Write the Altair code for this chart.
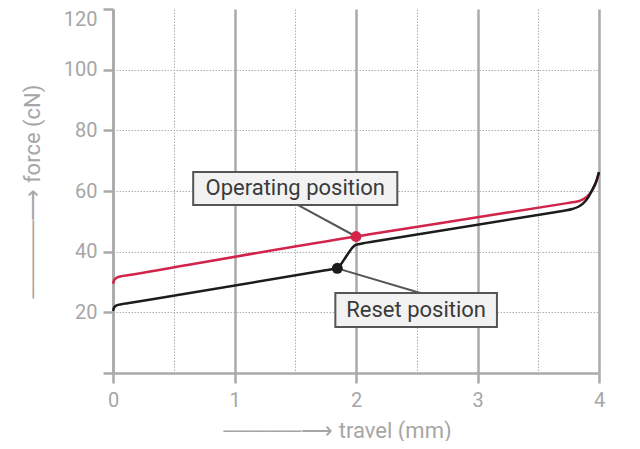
import altair as alt
import pandas as pd

# ---- data ----
op_x = [0.0, 0.01, 0.03, 0.07, 0.12, 2.0, 2.1, 3.0, 3.7, 3.78, 3.84, 3.88, 3.92, 3.95, 3.98, 4.0]
op_y = [29.5, 30.6, 31.4, 31.88, 32.22, 45.0, 45.63, 51.33, 55.76, 56.27, 56.75, 57.5, 58.9, 60.6, 63.3, 66.2]
rs_x = [0.0, 0.01, 0.03, 0.07, 0.12, 1.75, 1.80, 1.846, 1.87, 1.92, 1.96, 1.99, 2.03, 2.06, 2.12,
        3.65, 3.72, 3.78, 3.83, 3.87, 3.91, 3.95, 3.98, 4.0]
rs_y = [20.5, 21.6, 22.3, 22.67, 23.0, 33.85, 34.19, 34.5, 35.5, 38.5, 40.8, 42.1, 42.55, 42.8, 43.19,
        53.09, 53.54, 54.05, 54.8, 55.9, 57.8, 60.8, 63.5, 66.2]

point_names = ["Operating position", "Reset position"]
point_x = [2.0, 1.846]
point_y = [45.0, 34.5]
point_series = ["operating", "reset"]

# annotation boxes (data units) and leader lines
box_x1 = [0.66, 1.83]
box_x2 = [2.34, 3.16]
box_y1 = [55.4, 15.2]
box_y2 = [66.3, 26.4]
lead_x = [1.52, 2.53]
lead_y = [55.4, 26.4]

RED = "#d2234b"
BLACK = "#1c1c1c"
GRAY = "#a6a6a6"

rows = []
for x, y in zip(op_x, op_y):
    rows.append({"series": "operating", "x": x, "y": y})
for x, y in zip(rs_x, rs_y):
    rows.append({"series": "reset", "x": x, "y": y})
lines_df = pd.DataFrame(rows)

ann_df = pd.DataFrame({
    "name": point_names, "series": point_series,
    "px": point_x, "py": point_y,
    "bx1": box_x1, "bx2": box_x2, "by1": box_y1, "by2": box_y2,
    "bcx": [(a + b) / 2 for a, b in zip(box_x1, box_x2)],
    "bcy": [(a + b) / 2 for a, b in zip(box_y1, box_y2)],
    "lx": lead_x, "ly": lead_y,
})

xscale = alt.Scale(domain=[0, 4], nice=False, zero=False)
yscale = alt.Scale(domain=[0, 120], nice=False)
cscale = alt.Scale(domain=["operating", "reset"], range=[RED, BLACK])

is_int = "datum.value % 1 === 0"

x_axis = alt.Axis(
    values=[0, 0.5, 1, 1.5, 2, 2.5, 3, 3.5, 4],
    labelExpr="datum.value % 1 === 0 ? format(datum.value, 'd') : ''",
    labelFlush=False,
    title="─────⟶ travel (mm)",
    titleX=224, titleY=57, titleBaseline="middle", titleAlign="center",
    grid=True,
    gridDash={"condition": {"test": is_int, "value": []}, "value": [1.5, 1.5]},
    gridWidth={"condition": {"test": is_int, "value": 2.5}, "value": 1},
    gridColor={"condition": {"test": is_int, "value": "#aaaaaa"}, "value": "#b0b0b0"},
    tickSize={"condition": {"test": is_int, "value": 10}, "value": 0},
    labelPadding=7,
)
y_axis = alt.Axis(
    values=[0, 20, 40, 60, 80, 100, 120],
    labelExpr="datum.value === 0 ? '' : datum.label",
    labelFlush=False,
    labelOffset={"condition": {"test": "datum.value === 120", "value": 10}, "value": 0},
    title="─────⟶ force (cN)",
    titleX=-81, titleY=182, titleAngle=-90, titleBaseline="middle", titleAlign="center",
    grid=True,
    gridDash=[1.5, 1.5],
    gridWidth=1,
    gridColor="#b0b0b0",
    gridOpacity={"condition": {"test": "datum.value === 120", "value": 0}, "value": 1},
    tickSize=10,
    labelPadding=6,
)

base = alt.Chart(lines_df)
lines = base.mark_line(interpolate="monotone", strokeWidth=2.5).encode(
    x=alt.X("x:Q", scale=xscale, axis=x_axis),
    y=alt.Y("y:Q", scale=yscale, axis=y_axis),
    color=alt.Color("series:N", scale=cscale, legend=None),
    order="x:Q",
)

ann = alt.Chart(ann_df)
leaders = ann.mark_rule(color="#555555", strokeWidth=2).encode(
    x="px:Q", y="py:Q", x2="lx:Q", y2="ly:Q"
)
boxes = ann.mark_rect(fill="#f2f2f2", stroke="#555555", strokeWidth=2).encode(
    x="bx1:Q", x2="bx2:Q", y="by1:Q", y2="by2:Q"
)
labels = ann.mark_text(font="Roboto", fontSize=22, color="#3a3a3a").encode(
    x="bcx:Q", y="bcy:Q", text="name:N"
)
points = ann.mark_circle(size=120, opacity=1).encode(
    x="px:Q", y="py:Q",
    color=alt.Color("series:N", scale=cscale, legend=None),
)

chart = alt.layer(lines, leaders, boxes, labels, points).properties(
    width=486, height=364,
    autosize=alt.AutoSizeParams(type="none"),
    padding={"left": 105, "top": 1, "right": 30, "bottom": 68},
    background="white",
).configure_view(stroke=None).configure_axis(
    domainColor="#aaaaaa", domainWidth=2.5,
    tickColor="#aaaaaa", tickWidth=2.5,
    labelColor=GRAY, labelFont="Roboto", labelFontSize=20,
    titleColor=GRAY, titleFont="Roboto", titleFontSize=22, titleFontWeight="normal",
)

chart.save("out.html", embed_options={"renderer": "svg", "actions": False})
